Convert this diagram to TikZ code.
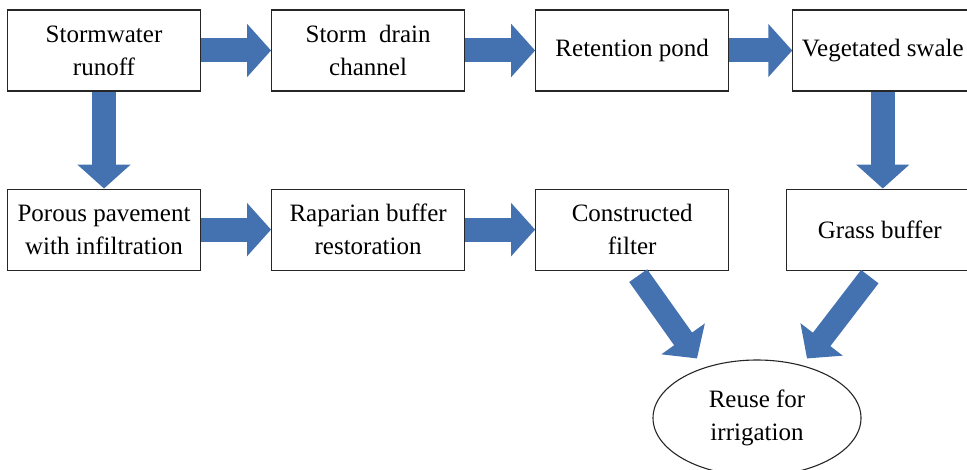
\documentclass[tikz,border=0pt]{standalone}
\usepackage{fontspec}
\setmainfont{Liberation Serif}
\usetikzlibrary{positioning,calc,arrows.meta,shapes.geometric}
\definecolor{flowblue}{RGB}{68,114,176}

\begin{document}
\begin{tikzpicture}[
  box/.style = {draw=black!85, line width=1.1pt, minimum width=193pt,
    minimum height=81pt, align=center, inner sep=2pt,
    font=\fontsize{25}{33}\selectfont},
  flow/.style = {draw=flowblue, line width=24pt,
    -{Triangle[length=24pt,width=52pt]}},
  node distance = 70pt,
  ]
  \useasboundingbox (0,0) rectangle (967pt,-470pt);

  \node[box] (sw) at (104pt,-50.5pt) {Stormwater\\runoff};
  \node[box, right=of sw] (sd) {Storm\ \ drain\\channel};
  \node[box, right=of sd] (rp) {Retention pond};
  \node[box, right=63pt of rp, minimum width=180pt] (vs) {Vegetated swale};

  \node[box, below=97pt of sw] (pp) {Porous pavement\\with infiltration};
  \node[box, right=of pp] (rb) {Raparian buffer\\restoration};
  \node[box, right=of rb] (cf) {Constructed\\filter};
  \node[box, right=57pt of cf, minimum width=186pt] (gb) {Grass buffer};

  \node[box, ellipse, minimum width=208pt, minimum height=116pt]
  (re) at (757pt,-418pt) {Reuse for\\irrigation};

  \coordinate (s1) at ($(cf.south)+(6pt,-5pt)$);
  \coordinate (s2) at ($(gb.south)+(-10pt,-6pt)$);
  \coordinate (t1) at ($(re.north)+(-60pt,1pt)$);
  \coordinate (t2) at ($(re.north)+(50pt,1pt)$);

  \draw[flow] (sw) -- (sd);
  \draw[flow] (sd) -- (rp);
  \draw[flow] (rp) -- (vs);
  \draw[flow] (sw) -- (pp);
  \draw[flow] (vs.south) -- (vs.south |- gb.north);
  \draw[flow] (pp) -- (rb);
  \draw[flow] (rb) -- (cf);
  \draw[flow, line width=22pt] (s1) -- (t1);
  \draw[flow, line width=22pt] (s2) -- (t2);
\end{tikzpicture}
\end{document}
